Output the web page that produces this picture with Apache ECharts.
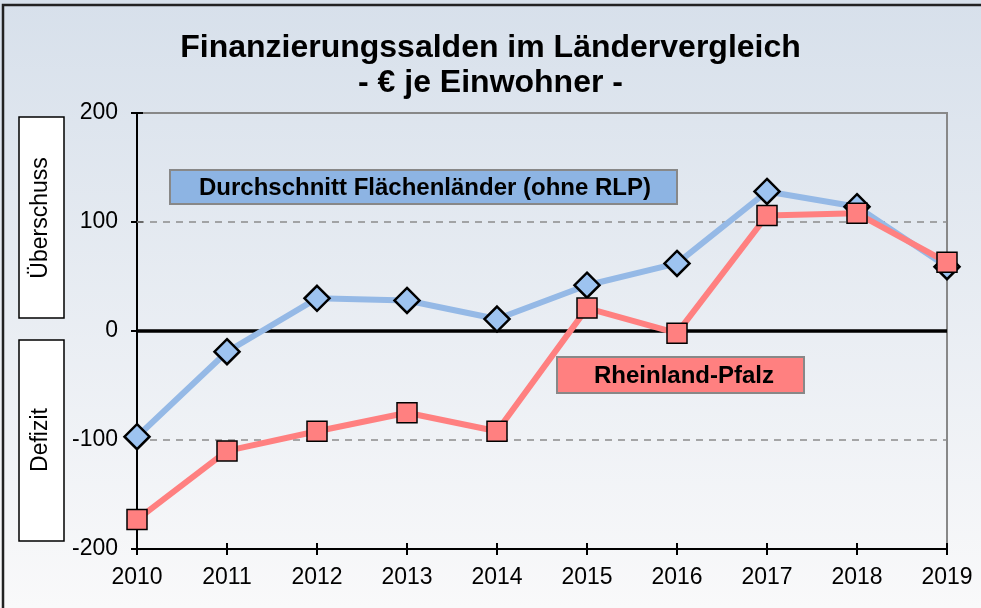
<!DOCTYPE html>
<html>
<head>
<meta charset="utf-8">
<script src="https://cdn.jsdelivr.net/npm/echarts@6/dist/echarts.min.js"></script>
<style>
  html, body { margin: 0; padding: 0; background: #fff; overflow: hidden; }
  #chart { width: 981px; height: 608px; }
</style>
</head>
<body>
<div id="chart"></div>
<script>
const years = ['2010', '2011', '2012', '2013', '2014', '2015', '2016', '2017', '2018', '2019'];
const flaechenlaender = [-97, -19, 30, 28, 11, 42, 62, 128, 114, 59];
const rheinlandPfalz = [-173, -110, -92, -75, -92, 21, -2, 106, 108, 63];

const chart = echarts.init(document.getElementById('chart'));
const font = 'Arial, "Liberation Sans", sans-serif';

const lineSeries = (name, data, color, symbol, size, fill, border) => ({
    name: name,
    type: 'line',
    data: data,
    symbol: symbol,
    symbolSize: size,
    lineStyle: { color: color, width: 6 },
    itemStyle: { color: fill, borderColor: '#000', borderWidth: border },
    z: 5
});

chart.setOption({
    animation: false,
    backgroundColor: {
        type: 'linear', x: 0, y: 0, x2: 0, y2: 1,
        colorStops: [
            { offset: 0, color: '#d7e0eb' },
            { offset: 1, color: '#f9f9fa' }
        ]
    },
    title: {
        text: 'Finanzierungssalden im Ländervergleich\n- € je Einwohner -',
        left: 'center',
        top: 26,
        textStyle: { fontFamily: font, fontSize: 32, fontWeight: 'bold', color: '#000', lineHeight: 35 }
    },
    grid: {
        left: 137, right: 34, top: 113, bottom: 59,
        show: true, borderColor: '#888', borderWidth: 2, backgroundColor: 'transparent'
    },
    xAxis: [{
        type: 'category',
        data: years,
        boundaryGap: false,
        axisLine: { onZero: false, lineStyle: { color: '#000', width: 2 } },
        axisTick: { lineStyle: { color: '#000', width: 2 }, length: 6 },
        axisLabel: { fontFamily: font, fontSize: 23, color: '#000', margin: 17 },
        splitLine: { show: false }
    }, {
        type: 'category',
        data: years,
        position: 'bottom',
        boundaryGap: false,
        axisLine: { show: false, onZero: false },
        axisTick: { inside: true, lineStyle: { color: '#000', width: 2 }, length: 6 },
        axisLabel: { show: false },
        splitLine: { show: false }
    }],
    yAxis: [{
        type: 'value',
        min: -200, max: 200, interval: 100,
        axisLine: { show: true, onZero: false, lineStyle: { color: '#000', width: 2 } },
        axisTick: { show: true, lineStyle: { color: '#000', width: 2 }, length: 6 },
        axisLabel: { fontFamily: font, fontSize: 23, color: '#000', margin: 19 },
        splitLine: { show: false }
    }, {
        type: 'value',
        position: 'left',
        min: -200, max: 200, interval: 100,
        axisLine: { show: false, onZero: false },
        axisTick: { show: true, inside: true, lineStyle: { color: '#000', width: 2 }, length: 6 },
        axisLabel: { show: false },
        splitLine: { show: false }
    }],
    series: [
        Object.assign(lineSeries('Durchschnitt Flächenländer (ohne RLP)', flaechenlaender, '#95b9e6', 'diamond', 25, '#9dc3f0', 2.5), {
            markLine: {
                silent: true,
                symbol: 'none',
                label: { show: false },
                data: [
                    { yAxis: 100, lineStyle: { color: '#8c8c8c', type: [7, 6], width: 1.5 } },
                    { yAxis: -100, lineStyle: { color: '#8c8c8c', type: [7, 6], width: 1.5 } },
                    { yAxis: 0, lineStyle: { color: '#000', type: 'solid', width: 3.5 } }
                ],
                z: 2
            }
        }),
        lineSeries('Rheinland-Pfalz', rheinlandPfalz, '#ff8080', 'rect', 20, '#ff8080', 1.5)
    ],
    graphic: [
        {
            type: 'polyline', silent: true,
            shape: { points: [[3, 620], [3, 5], [990, 5]] },
            style: { fill: 'none', stroke: '#222', lineWidth: 2.5 }
        },
        {
            type: 'rect', silent: true,
            shape: { x: 19, y: 117, width: 45, height: 201 },
            style: { fill: '#fff', stroke: '#000', lineWidth: 1.5 }
        },
        {
            type: 'text', silent: true,
            x: 41, y: 218, rotation: Math.PI / 2,
            style: { text: 'Überschuss', fontFamily: font, fontSize: 23, fill: '#000', align: 'center', verticalAlign: 'middle' }
        },
        {
            type: 'rect', silent: true,
            shape: { x: 19, y: 340, width: 45, height: 201 },
            style: { fill: '#fff', stroke: '#000', lineWidth: 1.5 }
        },
        {
            type: 'text', silent: true,
            x: 41, y: 440, rotation: Math.PI / 2,
            style: { text: 'Defizit', fontFamily: font, fontSize: 23, fill: '#000', align: 'center', verticalAlign: 'middle' }
        },
        {
            type: 'rect', silent: true, z: 10,
            shape: { x: 170, y: 170, width: 507, height: 34 },
            style: { fill: '#8db4e3', stroke: '#888', lineWidth: 2 }
        },
        {
            type: 'text', silent: true, z: 11,
            x: 425, y: 188,
            style: { text: 'Durchschnitt Flächenländer (ohne RLP)', fontFamily: font, fontSize: 24, fontWeight: 'bold', fill: '#000', align: 'center', verticalAlign: 'middle' }
        },
        {
            type: 'rect', silent: true, z: 10,
            shape: { x: 557, y: 357, width: 247, height: 36 },
            style: { fill: '#ff8080', stroke: '#888', lineWidth: 2 }
        },
        {
            type: 'text', silent: true, z: 11,
            x: 684, y: 376,
            style: { text: 'Rheinland-Pfalz', fontFamily: font, fontSize: 24, fontWeight: 'bold', fill: '#000', align: 'center', verticalAlign: 'middle' }
        }
    ]
});
</script>
</body>
</html>
